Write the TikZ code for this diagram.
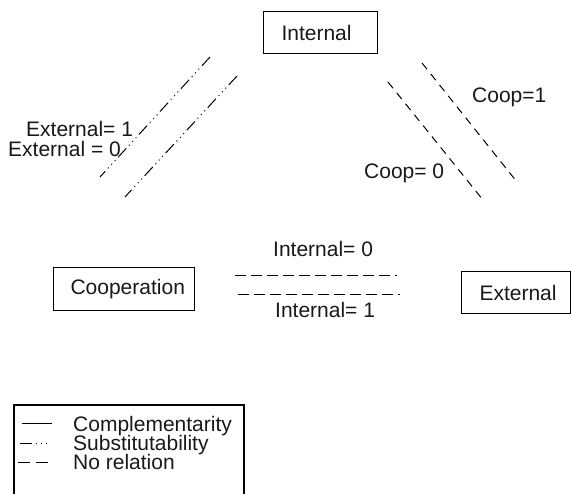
\documentclass[tikz,border=0pt]{standalone}
\usepackage{fontspec}
\setmainfont{Liberation Sans}
\begin{document}
\begin{tikzpicture}[x=1pt,y=-1pt,
  every node/.style={font=\fontsize{21}{25}\selectfont, text=black!90},
  box/.style={draw, line width=1.1pt, anchor=north west, align=left, minimum height=42pt, inner ysep=0pt},
  lab/.style={anchor=base west, inner sep=0pt},
  subst/.style={line width=1pt, dash pattern=on 12pt off 4pt on 1pt off 4pt on 1pt off 4pt on 1pt off 4pt},
  norel/.style={line width=1pt, dash pattern=on 11pt off 5pt},
  norelb/.style={line width=1pt, dash pattern=on 8pt off 6pt},
  compl/.style={line width=1pt}]
\useasboundingbox (0,0) rectangle (571,494);
% boxes
\node[box, inner xsep=18pt, text width=78pt] (int) at (263,11) {Internal};
\node[box, inner xsep=17pt, text width=107pt, minimum height=43pt] (coop) at (53,267) {Cooperation};
\node[box, inner xsep=18pt, text width=73pt] (ext) at (461,271) {External};
% left diagonal lines (substitutability)
\coordinate (l1a) at (100,177); \coordinate (l1b) at (210,57);
\coordinate (l2a) at (125,197); \coordinate (l2b) at (237,76);
\draw[subst] (l1b) -- (l1a);
\draw[subst] (l2b) -- (l2a);
\node[lab] (e1) at (26,137) {External= 1};
\node[lab] (e0) at (8,157) {External = 0};
% right diagonal lines (no relation)
\coordinate (r1a) at (388,82); \coordinate (r1b) at (483,200);
\coordinate (r2a) at (422,63); \coordinate (r2b) at (517,182);
\draw[norelb] (r1a) -- (r1b);
\draw[norelb] (r2a) -- (r2b);
\node[lab] (c1) at (472,103) {Coop=1};
\node[lab] (c0) at (364,179) {Coop= 0};
% horizontal lines (no relation)
\coordinate (h1a) at (235,276); \coordinate (h1b) at (397,276);
\coordinate (h2a) at (238,295); \coordinate (h2b) at (400,295);
\draw[norel] (h1a) -- (h1b);
\draw[norel] (h2a) -- (h2b);
\node[lab] (i0) at (273,257) {Internal= 0};
\node[lab] (i1) at (275,318) {Internal= 1};
% legend
\begin{scope}
\clip (0,0) rectangle (571,494);
\draw[line width=1.1pt] (14,500) |- (244,405) -- (244,500);
\end{scope}
\coordinate (k1a) at (22,424); \coordinate (k1b) at (52,424);
\coordinate (k2a) at (20,444); \coordinate (k2b) at (50,444);
\coordinate (k3a) at (18,463); \coordinate (k3b) at (50,463);
\draw[compl] (k1a) -- (k1b);
\draw[subst] (k2a) -- (k2b);
\draw[line width=1pt, dash pattern=on 12pt off 6pt] (k3a) -- (k3b);
\node[lab] (t1) at (73,432) {Complementarity};
\node[lab] (t2) at (73,451) {Substitutability};
\node[lab] (t3) at (73,470) {No relation};
\end{tikzpicture}
\end{document}
